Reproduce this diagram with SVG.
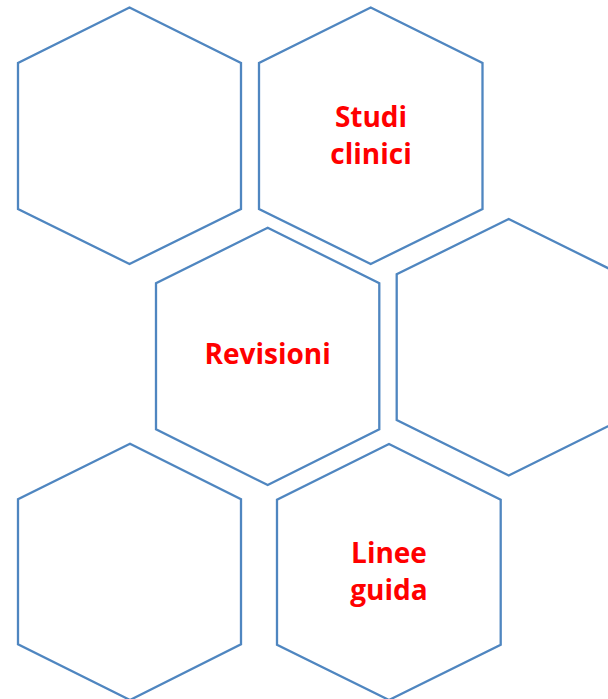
<svg xmlns="http://www.w3.org/2000/svg" width="608" height="699" viewBox="0 0 608 699">
<style>
.hex{fill:#FFFFFF;stroke:#4F86C0;stroke-width:2.3;stroke-linejoin:miter}
.lbl{font-family:"Open Sans","Liberation Sans",sans-serif;font-weight:bold;font-size:28px;fill:#FF0000;text-anchor:middle}
</style>
<rect width="608" height="699" fill="#FFFFFF"/>
<g id="hex-top-left">
<polygon class="hex" points="129.5,7.5 241,63 241,209 129.5,264 18,209 18,63"/>
</g>
<g id="hex-studi-clinici">
<polygon class="hex" points="370.7,7.5 482.5,63 482.5,209 370.7,264 259,209 259,63"/>
<text class="lbl" x="371" y="127">Studi</text>
<text class="lbl" x="371" y="163.5">clinici</text>
</g>
<g id="hex-revisioni">
<polygon class="hex" points="267.7,227.7 379.3,283.3 379.3,429.3 267.7,485 156,429.3 156,283.3"/>
<text class="lbl" x="267.7" y="364">Revisioni</text>
</g>
<g id="hex-right">
<polygon class="hex" points="508.7,219 620.5,274.3 620.5,420 508.7,475.5 396.7,420 396.7,274.3"/>
</g>
<g id="hex-bottom-left">
<polygon class="hex" points="130,443.7 241,499.3 241,644.3 130,700 18,644.3 18,499.3"/>
</g>
<g id="hex-linee-guida">
<polygon class="hex" points="389,444 500.7,499.7 500.7,644.7 389,700 277,644.7 277,499.7"/>
<text class="lbl" x="389" y="563.3">Linee</text>
<text class="lbl" x="389" y="600">guida</text>
</g>
<g id="connectors"></g>
</svg>
